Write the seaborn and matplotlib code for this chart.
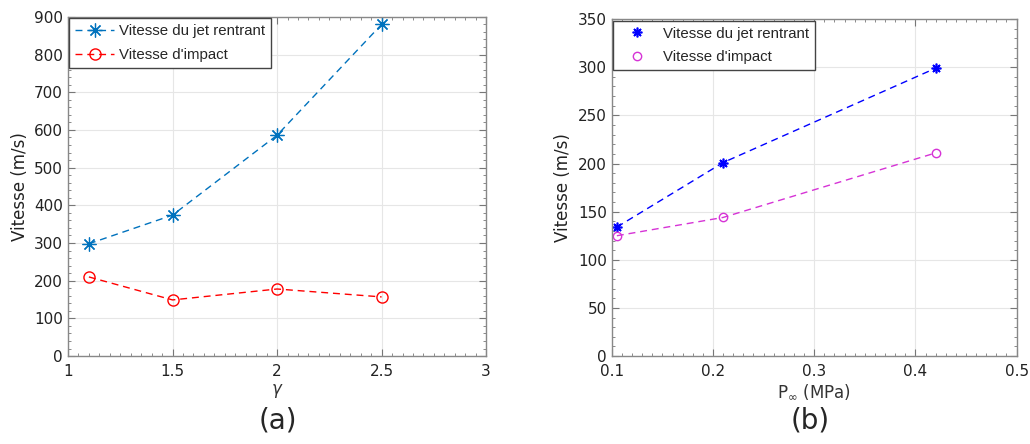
import numpy as np
import pandas as pd
import matplotlib
matplotlib.use("Agg")
import matplotlib.pyplot as plt
import seaborn as sns
from matplotlib.ticker import AutoMinorLocator
from matplotlib.lines import Line2D

# (a) velocity vs gamma
gamma = [1.1, 1.5, 2.0, 2.5]
jet_a = [298, 374, 586, 880]
impact_a = [210, 149, 178, 157]

# (b) velocity vs P_inf
p_inf = [0.105, 0.21, 0.42]
jet_b = [134, 201, 299]
impact_b = [125, 144, 211]

lab_jet = "Vitesse du jet rentrant"
lab_imp = "Vitesse d'impact"

sns.set_style("ticks")
plt.rcParams['font.family'] = ['DejaVu Sans']
plt.rcParams['mathtext.fontset'] = 'dejavusans'

fig = plt.figure(figsize=(10.3, 4.44), dpi=100)
ax1 = fig.add_axes([0.066, 0.198, 0.406, 0.764])
ax2 = fig.add_axes([0.594, 0.198, 0.393, 0.759])

ast = (8, 2, 0)
dash = (5, 3.5)
leg_font = {'family': 'Liberation Sans', 'size': 10.8}

# panel a
c_jet_a, c_imp_a = '#0072BD', '#FF0000'
sns.lineplot(x=gamma, y=jet_a, ax=ax1, color=c_jet_a, lw=1)
sns.lineplot(x=gamma, y=impact_a, ax=ax1, color=c_imp_a, lw=1)
ax1.lines[0].set_dashes(dash)
ax1.lines[1].set_dashes(dash)
ax1.plot(gamma, jet_a, ls='none', marker=ast, ms=10, mew=0.9, color=c_jet_a)
ax1.plot(gamma, impact_a, ls='none', marker='o', ms=8, mfc='none', mew=1, color=c_imp_a)
ax1.set_xlim(1, 3)
ax1.set_ylim(0, 900)
ax1.set_xticks([1, 1.5, 2, 2.5, 3])
ax1.set_xticklabels(['1', '1.5', '2', '2.5', '3'])
ax1.set_yticks(range(0, 901, 100))
ax1.set_xlabel(r'$\gamma$', fontsize=12, color='#333333', labelpad=2)
ax1.set_ylabel('Vitesse (m/s)', fontsize=12, color='#222222')
h_a = [Line2D([], [], color=c_jet_a, lw=1, dashes=dash, marker=ast, ms=10, mew=0.9),
       Line2D([], [], color=c_imp_a, lw=1, dashes=dash, marker='o', ms=8, mfc='none', mew=1)]
ax1.legend(h_a, [lab_jet, lab_imp], loc='upper left', prop=leg_font, frameon=True,
           fancybox=False, edgecolor='#444444', framealpha=1, borderaxespad=0.1,
           handlelength=2.6, borderpad=0.4, labelspacing=0.65, handletextpad=0.3)

# panel b: dashed lines + marker-only legend
c_jet_b, c_imp_b = '#0000FF', '#D633D6'
sns.lineplot(x=p_inf, y=jet_b, ax=ax2, color=c_jet_b, lw=1)
sns.lineplot(x=p_inf, y=impact_b, ax=ax2, color=c_imp_b, lw=1)
ax2.lines[0].set_dashes(dash)
ax2.lines[1].set_dashes(dash)
ax2.plot(p_inf, jet_b, ls='none', marker=ast, color=c_jet_b, ms=7, mew=1.2, label=lab_jet)
ax2.plot(p_inf, impact_b, ls='none', marker='o', color=c_imp_b, ms=6,
         mfc='none', mew=1, label=lab_imp)
ax2.set_xlim(0.1, 0.5)
ax2.set_ylim(0, 350)
ax2.set_xticks([0.1, 0.2, 0.3, 0.4, 0.5])
ax2.set_yticks(range(0, 351, 50))
ax2.set_xlabel(r'P$_\infty$ (MPa)', fontsize=12, color='#333333', labelpad=2)
ax2.set_ylabel('Vitesse (m/s)', fontsize=12, color='#222222')
ax2.legend(loc='upper left', prop=leg_font, frameon=True, fancybox=False,
           edgecolor='#444444', framealpha=1, borderaxespad=0.1, handlelength=2.4,
           borderpad=0.4, labelspacing=0.65, handletextpad=0.5)

for ax in (ax1, ax2):
    ax.grid(True, color='#E6E6E6', lw=0.8)
    ax.set_axisbelow(True)
    ax.xaxis.set_minor_locator(AutoMinorLocator(10))
    ax.yaxis.set_minor_locator(AutoMinorLocator(5))
    ax.tick_params(which='both', direction='in', top=True, right=True,
                   color='#777777', labelsize=11, labelcolor='#222222')
    ax.tick_params(which='major', length=5)
    ax.tick_params(which='minor', length=2.5)
    ax.tick_params(axis='x', pad=6)
    for s in ax.spines.values():
        s.set_visible(True)
        s.set_color('#888888')
        s.set_linewidth(1)

fig.text(0.27, 0.035, '(a)', fontsize=20, ha='center')
fig.text(0.787, 0.035, '(b)', fontsize=20, ha='center')

fig.savefig('out.png', dpi=100)
